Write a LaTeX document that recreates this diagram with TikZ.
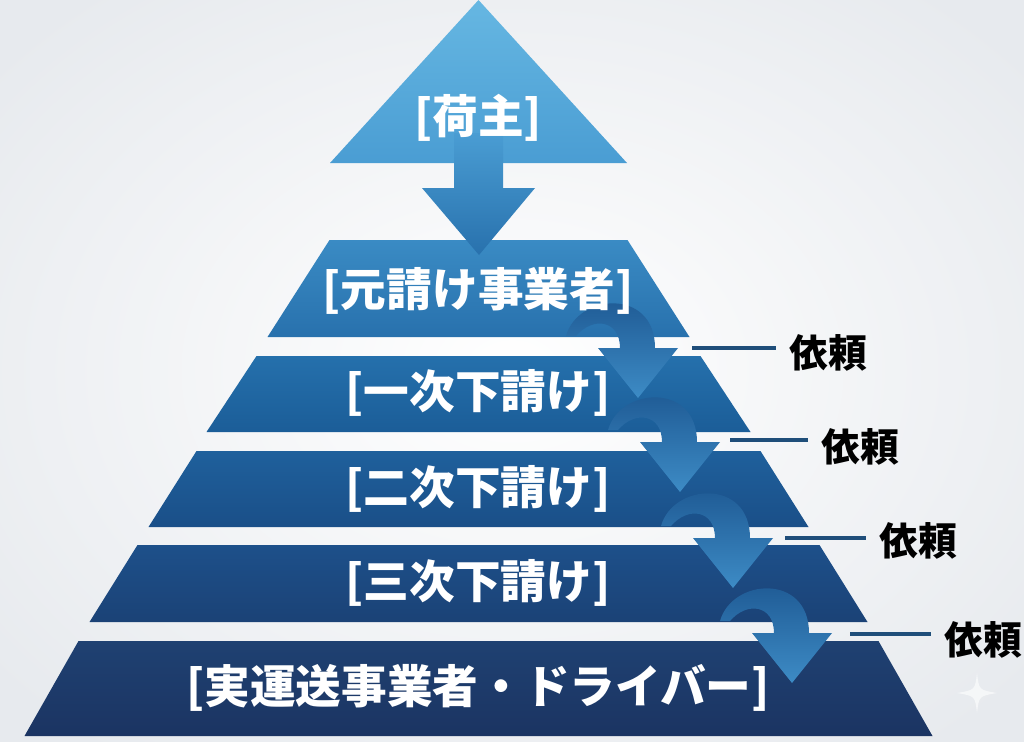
\documentclass[tikz,border=0pt]{standalone}
\usepackage{fontspec}
\newfontfamily\jpfont{Noto Sans CJK JP}
\usetikzlibrary{positioning}

\definecolor{bgout}{HTML}{E7EAEE}
\definecolor{tierAa}{HTML}{66B7E2}
\definecolor{tierAb}{HTML}{4A9DD3}
\definecolor{tierBa}{HTML}{3A8BC4}
\definecolor{tierBb}{HTML}{2871AD}
\definecolor{tierCa}{HTML}{2570AC}
\definecolor{tierCb}{HTML}{1B5D98}
\definecolor{tierDa}{HTML}{1F609C}
\definecolor{tierDb}{HTML}{1A4F88}
\definecolor{tierEa}{HTML}{1D508A}
\definecolor{tierEb}{HTML}{1B4276}
\definecolor{tierFa}{HTML}{1F4172}
\definecolor{tierFb}{HTML}{1B3462}
\definecolor{arrowtop}{HTML}{1C5690}
\definecolor{arrowbot}{HTML}{3D8BC5}
\definecolor{lineblue}{HTML}{1F4E7A}

\begin{document}
\begin{tikzpicture}[x=0.02cm,y=-0.02cm,
  tier/.style={text=white,font=\jpfont\bfseries\fontsize{26}{30}\selectfont},
  req/.style={text=black,font=\jpfont\bfseries\fontsize{22}{26}\selectfont,inner sep=0pt,anchor=west},
  reqline/.style={draw=lineblue,line width=1.8pt,shorten >=0.26cm},
  flow/.style={top color=arrowtop,bottom color=arrowbot}]

\useasboundingbox (0,0) rectangle (1024,741);
\shade[inner color=white,outer color=bgout] (-150,-120) rectangle (1174,861);

\shade[top color=tierAa,bottom color=tierAb] (478.5,0) -- (627,163) -- (330,163) -- cycle;
\shade[top color=tierBa,bottom color=tierBb] (329.5,240) -- (627.5,240) -- (689.5,337) -- (267.5,337) -- cycle;
\shade[top color=tierCa,bottom color=tierCb] (256.5,356) -- (700.5,356) -- (750.5,432) -- (206.5,432) -- cycle;
\shade[top color=tierDa,bottom color=tierDb] (196.5,451) -- (760.5,451) -- (808.5,527) -- (148.5,527) -- cycle;
\shade[top color=tierEa,bottom color=tierEb] (137.5,545) -- (819.5,545) -- (867.5,622) -- (89.5,622) -- cycle;
\shade[top color=tierFa,bottom color=tierFb] (78.5,641) -- (878.5,641) -- (932.5,736) -- (24.5,736) -- cycle;

\shade[top color=tierAb,bottom color=tierBb] (454,133) -- (503,133) -- (503,188) -- (535,188) -- (479,255) -- (422,188) -- (454,188) -- cycle;

\foreach \tx/\ty in {638/398, 680/492, 733/588, 792/683}
  \shade[flow] (\tx-72,\ty-62) .. controls (\tx-60,\ty-105) and (\tx+17,\ty-110) .. (\tx+17,\ty-50)
    -- (\tx+40,\ty-50) -- (\tx,\ty) -- (\tx-40,\ty-50) -- (\tx-18,\ty-50)
    .. controls (\tx-18,\ty-78) and (\tx-45,\ty-82) .. (\tx-62,\ty-62) -- cycle;

\node[tier] (l1) at (478,118) {[荷主]};
\node[tier] (l2) at (478,291) {[元請け事業者]};
\node[tier] (l3) at (478,393) {[一次下請け]};
\node[tier] (l4) at (478,489) {[二次下請け]};
\node[tier] (l5) at (478,583) {[三次下請け]};
\node[tier] (l6) at (478,688) {[実運送事業者・ドライバー]};

\coordinate (c1) at (692,348);
\coordinate (c2) at (730,440);
\coordinate (c3) at (785,538);
\coordinate (c4) at (850,634);

\node[req] (r1) at (789,353) {依頼};
\node[req] (r2) at (821,447) {依頼};
\node[req] (r3) at (879,541) {依頼};
\node[req] (r4) at (944,640) {依頼};

\draw[reqline] (c1) -- (c1 -| r1.west);
\draw[reqline] (c2) -- (c2 -| r2.west);
\draw[reqline] (c3) -- (c3 -| r3.west);
\draw[reqline] (c4) -- (c4 -| r4.west);

\fill[white,opacity=0.6] (977,673) .. controls (979,690) .. (997,693) .. controls (979,696) .. (977,713) .. controls (975,696) .. (957,693) .. controls (975,690) .. cycle;
\end{tikzpicture}
\end{document}
